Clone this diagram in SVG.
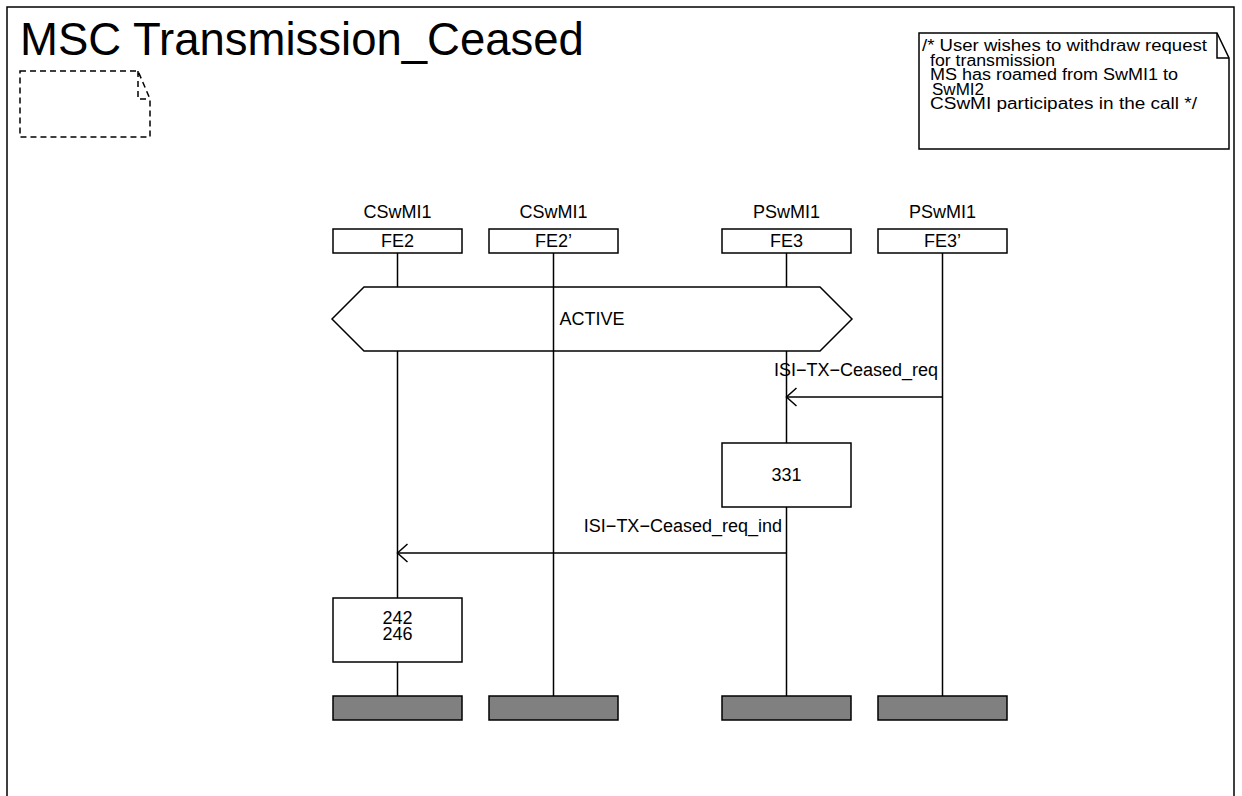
<svg xmlns="http://www.w3.org/2000/svg" width="1242" height="796" viewBox="0 0 1242 796">
<defs>
<style>
.ln{stroke:#000;stroke-width:1.5;fill:none}
.bx{stroke:#000;stroke-width:1.5;fill:#fff}
.end{stroke:#000;stroke-width:1.5;fill:#808080}
.t{font-family:"Liberation Sans",Arial,Helvetica,sans-serif;font-size:18px;fill:#000}
.n{font-family:"Liberation Sans",Arial,Helvetica,sans-serif;font-size:16px;fill:#000}
.c{text-anchor:middle}
.e{text-anchor:end}
</style>
<marker id="open" markerUnits="userSpaceOnUse" markerWidth="24" markerHeight="24" viewBox="-12 -12 14 24" refX="0" refY="0" orient="auto">
<path d="M-10,-9 L0,0 L-10,9" fill="none" stroke="#000" stroke-width="1.5"/>
</marker>
</defs>
<rect width="1242" height="796" fill="#fff"/>
<g id="frame">
<rect x="7" y="7" width="1227" height="820" class="ln"/>
<text x="20" y="55" style="font-family:'Liberation Sans',Arial,sans-serif;font-size:45.5px">MSC Transmission_Ceased</text>
</g>
<g id="docbox">
<path d="M20,71 H138 L150,99 V137 H20 Z M138,71 V99 H150" class="ln" stroke-dasharray="6,4"/>
</g>
<g id="comment">
<path d="M919,33 H1217 L1229,58 V149 H919 Z" class="bx"/>
<path d="M1217,33 V58 H1229" class="ln"/>
<text class="n" x="922" y="51" textLength="285" lengthAdjust="spacingAndGlyphs">/* User wishes to withdraw request</text>
<text class="n" x="930" y="65.5" textLength="125" lengthAdjust="spacingAndGlyphs">for transmission</text>
<text class="n" x="930" y="80" textLength="248" lengthAdjust="spacingAndGlyphs">MS has roamed from SwMI1 to</text>
<text class="n" x="932" y="94.5" textLength="52" lengthAdjust="spacingAndGlyphs">SwMI2</text>
<text class="n" x="930" y="109" textLength="267" lengthAdjust="spacingAndGlyphs">CSwMI participates in the call */</text>
</g>
<g id="lifelines">
<path d="M397.5,253 V287 M397.5,351 V598 M397.5,662 V696" class="ln"/>
<path d="M553.5,253 V696" class="ln"/>
<path d="M786.5,253 V287 M786.5,351 V443 M786.5,507 V696" class="ln"/>
<path d="M942.5,253 V696" class="ln"/>
</g>
<g id="inst_FE2">
<text class="t c" x="397.5" y="218">CSwMI1</text>
<rect x="333" y="229" width="129" height="24" class="bx"/>
<text class="t c" x="397.5" y="247">FE2</text>
<rect x="333" y="696" width="129" height="24" class="end"/>
</g>
<g id="inst_FE2p">
<text class="t c" x="553.5" y="218">CSwMI1</text>
<rect x="489" y="229" width="129" height="24" class="bx"/>
<text class="t c" x="553.5" y="247">FE2’</text>
<rect x="489" y="696" width="129" height="24" class="end"/>
</g>
<g id="inst_FE3">
<text class="t c" x="786.5" y="218">PSwMI1</text>
<rect x="722" y="229" width="129" height="24" class="bx"/>
<text class="t c" x="786.5" y="247">FE3</text>
<rect x="722" y="696" width="129" height="24" class="end"/>
</g>
<g id="inst_FE3p">
<text class="t c" x="942.5" y="218">PSwMI1</text>
<rect x="878" y="229" width="129" height="24" class="bx"/>
<text class="t c" x="942.5" y="247">FE3’</text>
<rect x="878" y="696" width="129" height="24" class="end"/>
</g>
<g id="state_active">
<path d="M332,319 L364,287 H820 L852,319 L820,351 H364 Z" class="bx" fill-opacity="0"/>
<text class="t c" x="592" y="325">ACTIVE</text>
</g>
<g id="action_331">
<rect x="722" y="443" width="129" height="64" class="bx"/>
<text class="t c" x="786.5" y="481">331</text>
</g>
<g id="action_242">
<rect x="333" y="598" width="129" height="64" class="bx"/>
<text class="t c" x="397.5" y="624">242</text>
<text class="t c" x="397.5" y="640">246</text>
</g>
<g id="connectors">
<path d="M942.5,397 H786.5" class="ln" marker-end="url(#open)"/>
<text class="t e" x="938" y="376">ISI−TX−Ceased_req</text>
<path d="M786.5,553 H397.5" class="ln" marker-end="url(#open)"/>
<text class="t e" x="782" y="532">ISI−TX−Ceased_req_ind</text>
</g>
</svg>
